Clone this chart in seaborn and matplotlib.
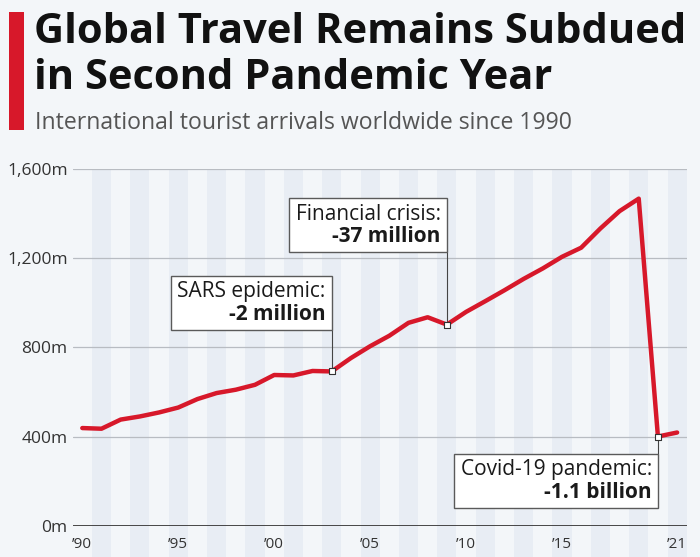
import matplotlib
matplotlib.use('Agg')
import matplotlib.pyplot as plt
import seaborn as sns
import pandas as pd
from matplotlib.patches import Rectangle

# ---- data ----
years = list(range(1990, 2022))
arrivals = [438, 435, 476, 490, 508, 530, 568, 595, 610, 632,
            676, 674, 694, 692, 752, 805, 852, 910, 935, 902,
            959, 1007, 1056, 1107, 1154, 1206, 1247, 1333, 1411, 1467,
            400, 418]
y_ticks = [0, 400, 800, 1200, 1600]
y_tick_labels = ['0m', '400m', '800m', '1,200m', '1,600m']
x_ticks = [1990, 1995, 2000, 2005, 2010, 2015, 2021]
x_tick_labels = ['\u201990', '\u201995', '\u201900', '\u201905', '\u201910', '\u201915', '\u201921']
event_years = [2003, 2009, 2020]
event_titles = ['SARS epidemic:', 'Financial crisis:', 'Covid-19 pandemic:']
event_changes = ['-2 million', '-37 million', '-1.1 billion']

title1 = 'Global Travel Remains Subdued'
title2 = 'in Second Pandemic Year'
subtitle = 'International tourist arrivals worldwide since 1990'

# ---- style ----
BG = '#f3f6f9'
STRIPE = '#e8edf4'
RED = '#d7182a'
W, H = 700, 557

sns.set_theme(style='white')
plt.rcParams['font.family'] = ['Open Sans', 'DejaVu Sans']

fig = plt.figure(figsize=(W / 100, H / 100), dpi=100, facecolor=BG)

ax_l, ax_r, ax_t, ax_b = 72.7, 686.7, 169.0, 525.7
ax = fig.add_axes([ax_l / W, 1 - ax_b / H, (ax_r - ax_l) / W, (ax_b - ax_t) / H])
ax.set_facecolor(BG)
ax.set_xlim(1989.5, 2021.5)
ax.set_ylim(0, 1600)

xpx = (2021.5 - 1989.5) / (ax_r - ax_l)   # data units per pixel
ypx = 1600 / (ax_b - ax_t)

# stripes on odd years, extending below the axis
for yr in years:
    if yr % 2 == 1:
        ax.axvspan(yr - 0.5, yr + 0.5, ymin=-0.12, ymax=1, color=STRIPE,
                   lw=0, zorder=0, clip_on=False)

df = pd.DataFrame({'year': years, 'arrivals': arrivals})
sns.lineplot(data=df, x='year', y='arrivals', color=RED, lw=3.2, ax=ax,
             zorder=5)

ax.set_yticks(y_ticks)
ax.set_yticklabels(y_tick_labels)
ax.set_xticks(x_ticks)
ax.set_xticklabels(x_tick_labels)
ax.set_xlabel('')
ax.set_ylabel('')
ax.yaxis.grid(True, color='#b8bcc2', lw=0.9)
ax.xaxis.grid(False)
ax.set_axisbelow(True)
for s in ax.spines.values():
    s.set_visible(False)
ax.axhline(0, color='#3a3a3a', lw=1.3, zorder=3)
ax.tick_params(axis='y', length=0, pad=3.6, labelsize=12.5, labelcolor='#333333')
ax.tick_params(axis='x', length=0, pad=8, labelsize=11, labelcolor='#333333')

# event markers
ev = df[df['year'].isin(event_years)]
ax.scatter(ev['year'], ev['arrivals'], marker='s', s=16, facecolor='white',
           edgecolor='#333333', lw=0.8, zorder=6)

# annotation boxes (top edge in px from figure top, anchored at event's x)
box_tops_px = [276.0, 198.3, 454.3]
box_h_px = 53.5
fig.canvas.draw()
renderer = fig.canvas.get_renderer()
for yr, t1, t2, top_px in zip(event_years, event_titles, event_changes, box_tops_px):
    top = (ax_b - top_px) * ypx
    bottom = top - box_h_px * ypx
    xr = yr
    txt_x = xr - 6 * xpx
    a = ax.text(txt_x, top - 15.7 * ypx, t1, ha='right', va='center',
                fontsize=15, color='#1a1a1a', zorder=9)
    b = ax.text(txt_x, top - 38.6 * ypx, t2, ha='right', va='center',
                fontsize=15, fontweight='bold', color='#1a1a1a', zorder=9)
    wpx = max(a.get_window_extent(renderer).width, b.get_window_extent(renderer).width)
    xl = txt_x - (wpx + 6.5) * xpx
    ax.add_patch(Rectangle((xl, bottom), xr - xl, top - bottom, facecolor='white',
                           edgecolor='#5a5a5a', lw=1.0, zorder=8))
    val = df.loc[df['year'] == yr, 'arrivals'].iloc[0]
    y0 = bottom if val < bottom else top
    ax.plot([xr, xr], [y0, val], color='#444444', lw=0.8, zorder=4)

# title block
fig.add_artist(Rectangle((9 / W, 1 - 130 / H), 15 / W, 118.3 / H,
                         transform=fig.transFigure, facecolor=RED, lw=0))
fig.text(34 / W, 1 - 43.3 / H, title1, fontsize=30, fontweight='bold',
         color='#111111', va='baseline', ha='left')
fig.text(34 / W, 1 - 89.3 / H, title2, fontsize=30, fontweight='bold',
         color='#111111', va='baseline', ha='left')
fig.text(35 / W, 1 - 129.3 / H, subtitle, fontsize=16.6, color='#555555',
         va='baseline', ha='left')

fig.savefig('out.png', dpi=100, facecolor=BG)
